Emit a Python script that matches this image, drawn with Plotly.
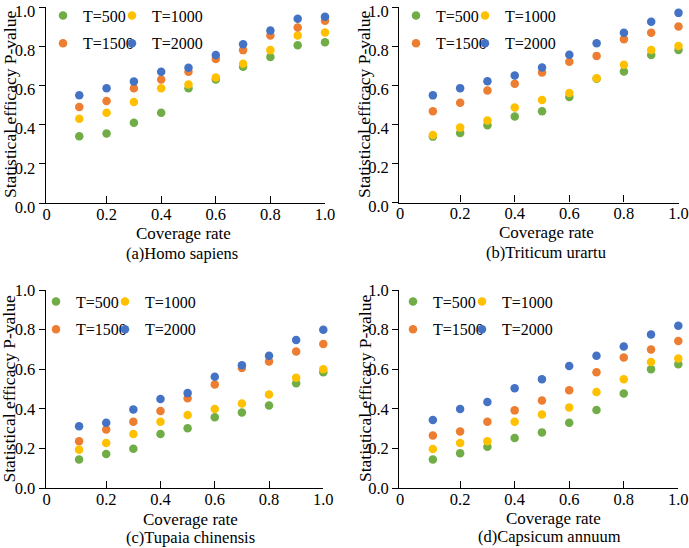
import plotly.graph_objects as go

# ---------------- data ----------------
coverage = [0.1, 0.2, 0.3, 0.4, 0.5, 0.6, 0.7, 0.8, 0.9, 1.0]
series_names = ["T=500", "T=1000", "T=1500", "T=2000"]
series_colors = ["#70AD47", "#FFC000", "#ED7D31", "#4472C4"]

homo_t500 = [0.34, 0.355, 0.41, 0.46, 0.585, 0.63, 0.695, 0.745, 0.805, 0.82]
homo_t1000 = [0.43, 0.46, 0.515, 0.585, 0.605, 0.64, 0.71, 0.78, 0.855, 0.87]
homo_t1500 = [0.49, 0.52, 0.585, 0.63, 0.67, 0.735, 0.78, 0.855, 0.895, 0.93]
homo_t2000 = [0.55, 0.585, 0.62, 0.67, 0.69, 0.755, 0.81, 0.88, 0.94, 0.95]

trit_t500 = [0.337, 0.355, 0.395, 0.44, 0.467, 0.54, 0.633, 0.67, 0.755, 0.78]
trit_t1000 = [0.345, 0.383, 0.42, 0.486, 0.524, 0.56, 0.636, 0.705, 0.78, 0.80]
trit_t1500 = [0.467, 0.51, 0.573, 0.607, 0.665, 0.72, 0.75, 0.835, 0.868, 0.90]
trit_t2000 = [0.548, 0.585, 0.62, 0.65, 0.69, 0.756, 0.815, 0.868, 0.925, 0.97]

tupa_t500 = [0.145, 0.173, 0.20, 0.274, 0.303, 0.358, 0.382, 0.417, 0.53, 0.585]
tupa_t1000 = [0.195, 0.229, 0.274, 0.336, 0.37, 0.40, 0.428, 0.473, 0.557, 0.60]
tupa_t1500 = [0.237, 0.296, 0.336, 0.39, 0.454, 0.524, 0.607, 0.64, 0.69, 0.728]
tupa_t2000 = [0.313, 0.33, 0.397, 0.45, 0.48, 0.562, 0.62, 0.668, 0.748, 0.80]

caps_t500 = [0.145, 0.177, 0.209, 0.254, 0.282, 0.33, 0.395, 0.478, 0.60, 0.625]
caps_t1000 = [0.198, 0.229, 0.237, 0.336, 0.372, 0.408, 0.486, 0.55, 0.637, 0.655]
caps_t1500 = [0.266, 0.287, 0.336, 0.393, 0.443, 0.495, 0.585, 0.66, 0.70, 0.743]
caps_t2000 = [0.345, 0.40, 0.435, 0.505, 0.55, 0.617, 0.668, 0.715, 0.776, 0.82]

panel_captions = ["(a)Homo sapiens", "(b)Triticum urartu",
                  "(c)Tupaia chinensis", "(d)Capsicum annuum"]
x_title = "Coverage rate"
y_title = "Statistical efficacy P-value"
x_tick_vals = [-0.02, 0.2, 0.4, 0.6, 0.8, 1.0]
x_tick_text = ["0", "0.2", "0.4", "0.6", "0.8", "1.0"]
y_tick_vals = [0.0, 0.2, 0.4, 0.6, 0.8, 1.0]
y_tick_text = ["0.0", "0.2", "0.4", "0.6", "0.8", "1.0"]

panels = [
    [homo_t500, homo_t1000, homo_t1500, homo_t2000],
    [trit_t500, trit_t1000, trit_t1500, trit_t2000],
    [tupa_t500, tupa_t1000, tupa_t1500, tupa_t2000],
    [caps_t500, caps_t1000, caps_t1500, caps_t2000],
]

# ---------------- layout geometry (pixels) ----------------
W, H = 689, 548
FONT = "Liberation Serif, Times New Roman, serif"
# plot areas: left, right, top, bottom in px
areas = [
    (45.7, 325.0, 7.0, 203.0),
    (399.3, 678.5, 7.0, 202.5),
    (45.7, 323.3, 290.0, 488.3),
    (399.3, 678.3, 290.0, 488.3),
]
# shift of y tick labels (px, positive = down here) so top labels stay inside
ylabel_shift = [4, 4, 0, 0]
# legend columns: (col1 left px, col2 left px, top px)
legend_pos = [
    (43.0, 112.0, -1.5),
    (396.0, 465.0, -1.5),
    (36.0, 105.0, 284.5),
    (393.0, 462.0, 284.5),
]
# centres of titles and caption text (px)
ytitle_pos = [(10.0, 105.0), (363.3, 104.8), (8.5, 389.0), (365.0, 389.0)]
xtitle_pos = [(183.0, 233.0), (546.0, 232.5), (190.0, 519.5), (553.0, 518.5)]
caption_pos = [(182.0, 253.0), (546.0, 252.0), (190.0, 537.5), (549.5, 536.5)]

fig = go.Figure()

for p, series in enumerate(panels):
    sfx = "" if p == 0 else str(p + 1)
    for s, vals in enumerate(series):
        leg_idx = 2 * p + (1 if s % 2 == 0 else 2)
        leg_name = "legend" if leg_idx == 1 else "legend%d" % leg_idx
        fig.add_trace(go.Scatter(
            x=coverage, y=vals, mode="markers", name=series_names[s],
            marker=dict(color=series_colors[s], size=8.5, line=dict(width=0)),
            xaxis="x" + sfx, yaxis="y" + sfx, legend=leg_name,
            legendgroup="p%d_s%d" % (p, s),
            cliponaxis=False,
        ))

layout = dict(
    width=W, height=H,
    margin=dict(l=0, r=0, t=0, b=0, autoexpand=False),
    paper_bgcolor="white", plot_bgcolor="white",
    font=dict(family=FONT, size=16, color="black"),
    annotations=[],
)

axis_common = dict(showline=True, linecolor="black", linewidth=1.3,
                   showgrid=False, zeroline=False, mirror=False,
                   tickcolor="black", tickwidth=1.3, automargin=False,
                   ticklabeloverflow="allow",
                   tickfont=dict(family=FONT, size=16.5, color="black"))

for p, (l, r, t, b) in enumerate(areas):
    sfx = "" if p == 0 else str(p + 1)
    layout["xaxis" + sfx] = dict(
        axis_common, domain=[l / W, r / W], anchor="y" + sfx,
        range=[-0.023, 1.0], tickmode="array", tickvals=x_tick_vals,
        ticktext=x_tick_text, ticks="inside", ticklen=7,
        ticklabelstandoff=-4,
    )
    layout["yaxis" + sfx] = dict(
        axis_common, domain=[1 - b / H, 1 - t / H], anchor="x" + sfx,
        range=[0, 1.0], tickmode="array", tickvals=y_tick_vals,
        ticktext=y_tick_text, ticks="outside", ticklen=6,
        ticklabelshift=ylabel_shift[p],
    )
    c1, c2, top = legend_pos[p]
    for k, lx in enumerate([c1, c2]):
        idx = 2 * p + k + 1
        name = "legend" if idx == 1 else "legend%d" % idx
        layout[name] = dict(
            orientation="v", x=lx / W, xanchor="left",
            y=1 - top / H, yanchor="top",
            bgcolor="rgba(0,0,0,0)", borderwidth=0,
            font=dict(family=FONT, size=16, color="black"),
            tracegroupgap=4, traceorder="grouped",
        )
    yx, yy = ytitle_pos[p]
    layout["annotations"].append(dict(
        text=y_title, x=yx / W, y=1 - yy / H, xref="paper", yref="paper",
        xanchor="center", yanchor="middle", showarrow=False, textangle=-90,
        font=dict(family=FONT, size=17.5, color="black")))
    tx, ty = xtitle_pos[p]
    layout["annotations"].append(dict(
        text=x_title, x=tx / W, y=1 - ty / H, xref="paper", yref="paper",
        xanchor="center", yanchor="middle", showarrow=False,
        font=dict(family=FONT, size=17, color="black")))
    cx, cy = caption_pos[p]
    layout["annotations"].append(dict(
        text=panel_captions[p], x=cx / W, y=1 - cy / H, xref="paper", yref="paper",
        xanchor="center", yanchor="middle", showarrow=False,
        font=dict(family=FONT, size=16.5, color="black")))

fig.update_layout(**layout)
fig.write_html("out.html")
